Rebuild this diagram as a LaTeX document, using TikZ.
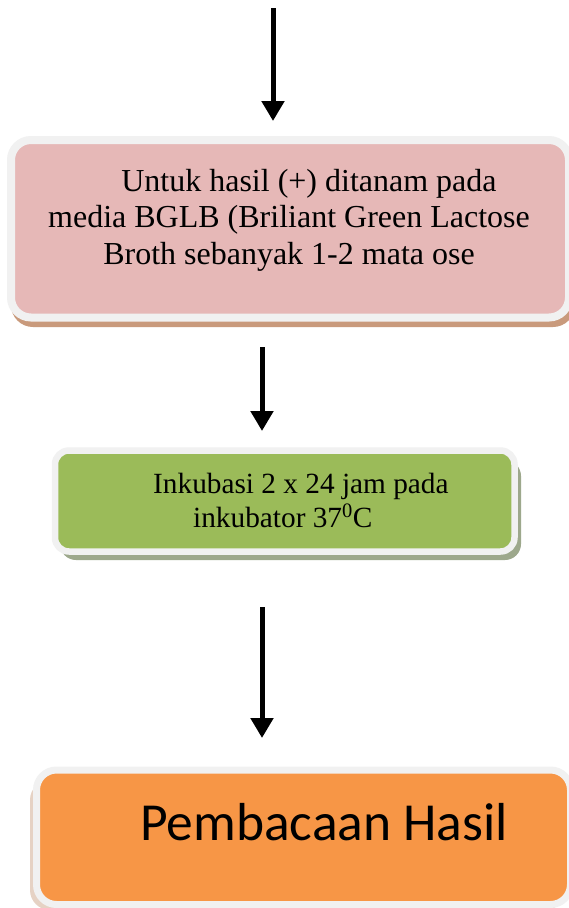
\documentclass[tikz,border=0pt]{standalone}
\usepackage{fontspec}
\setmainfont{Liberation Serif}
\newfontfamily\carlito{Carlito}
\usetikzlibrary{arrows.meta}
\definecolor{pinkfill}{HTML}{E6B8B7}
\definecolor{greenfill}{HTML}{9BBB59}
\definecolor{orangefill}{HTML}{F79646}
\definecolor{pinkshadow}{HTML}{C99A7C}
\definecolor{greenshadow}{HTML}{9DA88C}
\definecolor{orangeshadow}{HTML}{E6D2C4}
\definecolor{rimgrey}{HTML}{F1F1F1}
\tikzset{
  card/.style={rounded corners=20pt, draw=rimgrey, line width=8pt, inner sep=0pt},
  flowarrow/.style={line width=5pt, -{Triangle[width=22pt,length=20pt]}},
  serif/.style={align=center, inner sep=0pt},
}
\begin{document}
\begin{tikzpicture}[x=1pt,y=-1pt]
\useasboundingbox (0,0) rectangle (569,908);
\fill[white] (0,0) rectangle (569,908);
% arrow 1
\coordinate (a1s) at (273,8);
\coordinate (a1e) at (273,121);
\draw[flowarrow] (a1s) -- (a1e);
% box 1
\fill[pinkshadow, rounded corners=22pt] (11,150) rectangle (575,327);
\node[card, fill=pinkfill, minimum width=558pt, minimum height=177.5pt] (b1) at (290,228.75) {};
\node[serif, font=\fontsize{32}{36.5}\selectfont] (t1) at (289,220) {\hspace*{40pt}Untuk hasil (+) ditanam pada\\media BGLB (Briliant Green Lactose\\Broth sebanyak 1-2 mata ose};
% arrow 2
\coordinate (a2s) at (262,347);
\coordinate (a2e) at (262,431);
\draw[flowarrow] (a2s) -- (a2e);
% box 2
\fill[greenshadow, rounded corners=16pt] (60,460) rectangle (521,560);
\node[card, rounded corners=14pt, line width=6.5pt, fill=greenfill, minimum width=459.5pt, minimum height=101pt] (b2) at (284.75,501) {};
\node[serif, align=left, anchor=base west, font=\fontsize{29.3}{34}\selectfont] (t2) at (153,493) {Inkubasi 2 x 24 jam pada};
\node[serif, align=left, anchor=base west, font=\fontsize{29.3}{34}\selectfont] (t2b) at (193,527) {inkubator 37\textsuperscript{0}C};
% arrow 3
\coordinate (a3s) at (262,607);
\coordinate (a3e) at (262,738);
\draw[flowarrow] (a3s) -- (a3e);
% box 3
\fill[orangeshadow, rounded corners=20pt] (30,780) rectangle (565,910);
\node[card, line width=7pt, fill=orangefill, minimum width=534pt, minimum height=134.5pt] (b3) at (303.5,837.25) {};
\node[inner sep=0pt, anchor=base, font=\carlito\fontsize{53.5}{58}\selectfont] (t3) at (324,840) {Pembacaan Hasil};
\end{tikzpicture}
\end{document}
